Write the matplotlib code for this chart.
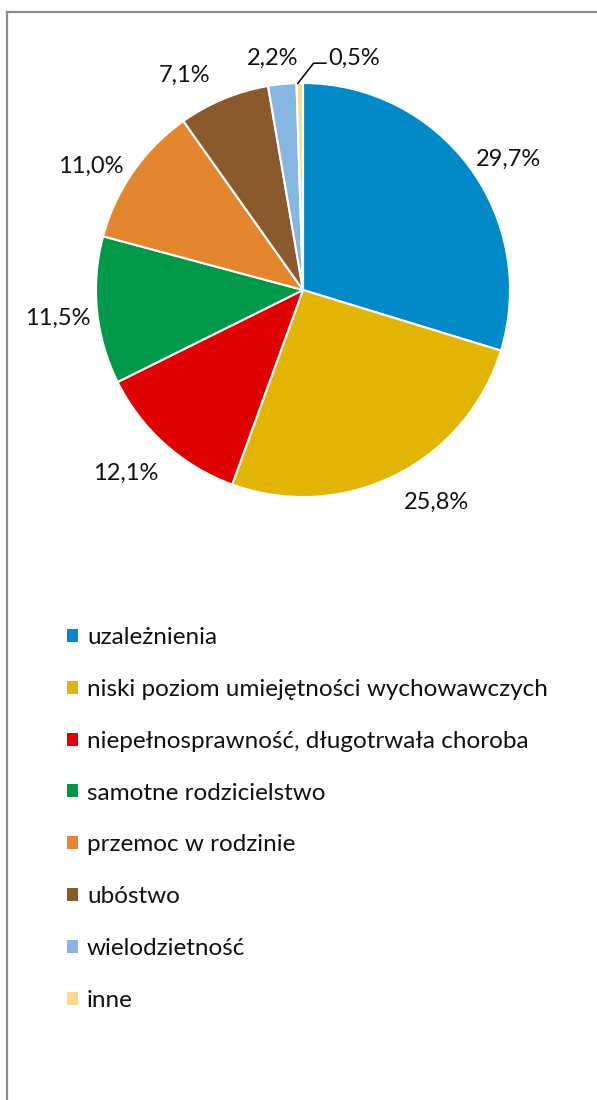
import matplotlib
matplotlib.use("Agg")
import matplotlib.pyplot as plt
import numpy as np
from matplotlib.patches import Patch
from matplotlib.lines import Line2D

categories = ["uzależnienia", "niski poziom umiejętności wychowawczych",
              "niepełnosprawność, długotrwała choroba", "samotne rodzicielstwo",
              "przemoc w rodzinie", "ubóstwo", "wielodzietność", "inne"]
values = [29.7, 25.8, 12.1, 11.5, 11.0, 7.1, 2.2, 0.5]
labels = ["29,7%", "25,8%", "12,1%", "11,5%", "11,0%", "7,1%", "2,2%", "0,5%"]
colors = ["#0289c8", "#e2b504", "#e00000", "#00994a", "#e3862e", "#8a5a2c", "#86b7e3", "#ffd98b"]

# label layout: angular nudge (deg) from wedge middle and radius factor
label_nudge = [-3.7, 5.9, -2.6, 0.4, 4.2, 6.1, 1.7]
label_rad = [1.179, 1.203, 1.227, 1.191, 1.193, 1.193, 1.140]

plt.rcParams['font.family'] = ['Lato', 'DejaVu Sans']

W, H = 597, 1100
fig = plt.figure(figsize=(W / 100, H / 100), dpi=100)

cx, cy, r = 303, 290, 207
ax = fig.add_axes([(cx - r) / W, 1 - (cy + r) / H, 2 * r / W, 2 * r / H])
wedges, _ = ax.pie(values, colors=colors, startangle=90, counterclock=False,
                   wedgeprops=dict(edgecolor="white", linewidth=1.5), radius=1.0)
ax.set_xlim(-1, 1)
ax.set_ylim(-1, 1)
ax.set_aspect("auto")
ax.axis("off")

fs = 17
half_cap = 8.5 / r  # half digit height in data units
txtcol = "#111111"
for i, (w, lab) in enumerate(zip(wedges, labels)):
    mid = (w.theta1 + w.theta2) / 2
    if i < len(label_nudge):
        ang = np.deg2rad(mid + label_nudge[i])
        d = label_rad[i]
        ax.text(d * np.cos(ang), d * np.sin(ang) - half_cap, lab, ha="center",
                va="baseline", fontsize=fs, color=txtcol)
    else:
        ang = np.deg2rad(mid)
        x0, y0 = np.cos(ang), np.sin(ang)
        lx, ly = x0 + 0.14, y0 + 0.13
        ax.text(lx, ly - half_cap, lab, ha="left", va="baseline", fontsize=fs, color=txtcol)
        ex, ey = lx - 0.01, ly - 0.034
        ax.plot([x0 * 0.995 - 0.012, ex - 0.063, ex], [y0 * 0.995, ey, ey],
                color="black", lw=1.1, clip_on=False, solid_capstyle="butt")

handles = [Patch(facecolor=c, edgecolor="none") for c in colors]
fig.legend(handles, categories, loc="upper left", bbox_to_anchor=(67 / W, 1 - 627 / H),
           frameon=False, fontsize=17.5, handlelength=0.45, handleheight=0.45,
           handletextpad=0.37, labelspacing=1.27, borderpad=0, borderaxespad=0,
           labelcolor=txtcol)

fig.add_artist(Line2D([7 / W, 1], [1 - 12 / H, 1 - 12 / H], transform=fig.transFigure,
                      color="#8c8c8c", lw=1.6))
fig.add_artist(Line2D([7 / W, 7 / W], [0, 1 - 12 / H], transform=fig.transFigure,
                      color="#8c8c8c", lw=1.6))

fig.savefig("out.png", dpi=100, facecolor="white")
